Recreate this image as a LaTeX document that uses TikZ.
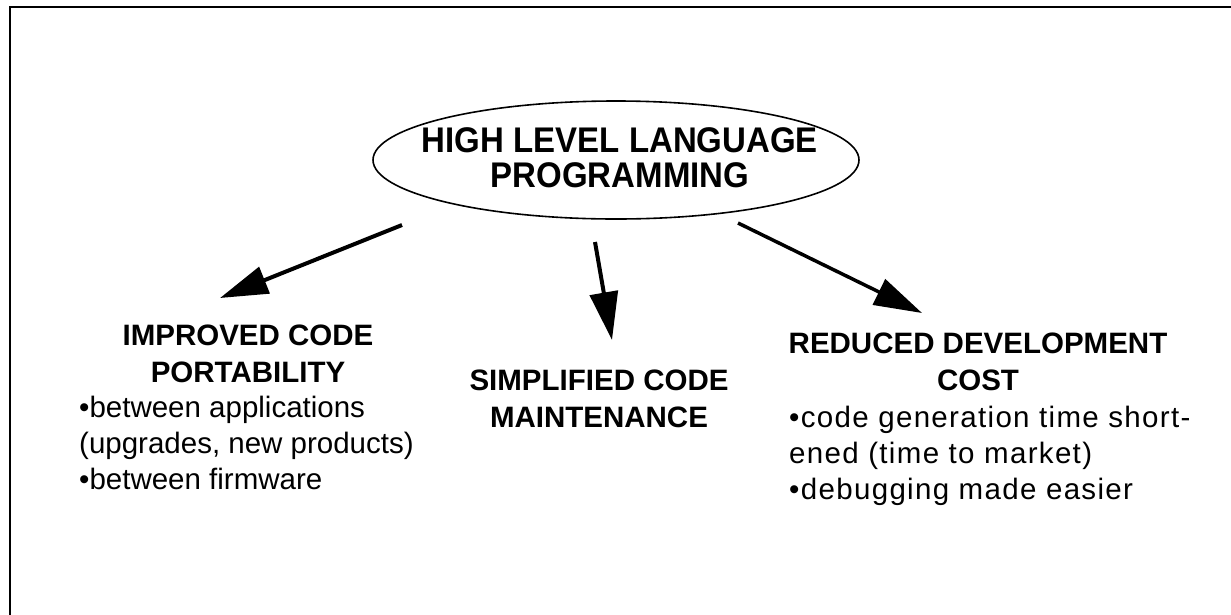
\documentclass[tikz,border=0pt]{standalone}
\usepackage{fontspec}
\setmainfont{Liberation Sans}
\usetikzlibrary{shapes.geometric,arrows.meta}
\begin{document}
\begin{tikzpicture}[x=1pt,y=-1pt,
  frameline/.style={line width=2.6pt},
  bigarrow/.style={line width=4pt,-{Triangle[length=48pt,width=28pt]}},
  headtext/.style={inner sep=0pt,align=center,font=\fontsize{29.5}{37}\selectfont\bfseries},
  bodytext/.style={inner sep=0pt,align=left,font=\fontsize{29.5}{36}\selectfont}]
\useasboundingbox (0,0) rectangle (1231,614);
\draw[frameline] (10,620) -- (10,7) -- (1240,7);
\node[draw,ellipse,line width=1.6pt,minimum width=486pt,minimum height=118pt,inner sep=0pt] (hll) at (616,160) {};
\node[inner sep=0pt,font=\fontsize{33}{31}\selectfont\bfseries] (hlltext) at (620,163)
  {\scalebox{1}[1.08]{\begin{tabular}{@{}c@{}}HIGH LEVEL LANGUAGE\\PROGRAMMING\end{tabular}}};
% headings (anchor base = baseline of last line)
\node[headtext,anchor=base] (port) at (248,382) {IMPROVED CODE\\PORTABILITY};
\node[headtext,anchor=base] (maint) at (599,427) {SIMPLIFIED CODE\\MAINTENANCE};
\node[headtext,anchor=base] (cost) at (978,390) {REDUCED DEVELOPMENT\\COST};
% bodies
\node[bodytext,anchor=base west] (portb) at (79,489) {•between applications\\(upgrades, new products)\\•between firmware};
\node[bodytext,anchor=base west,font=\fontsize{29.5}{36}\selectfont\addfontfeature{LetterSpace=4.5}] (costb) at (789,499) {•code generation time short-\\ened (time to market)\\•debugging made easier};
% arrows
\coordinate (a1s) at (402,225); \coordinate (a1e) at (220,298);
\coordinate (a2s) at (595,242); \coordinate (a2e) at (612,340);
\coordinate (a3s) at (738,223); \coordinate (a3e) at (922,313);
\draw[bigarrow] (a1s) -- (a1e);
\draw[bigarrow] (a2s) -- (a2e);
\draw[bigarrow,line width=3.5pt] (a3s) -- (a3e);
\end{tikzpicture}
\end{document}
